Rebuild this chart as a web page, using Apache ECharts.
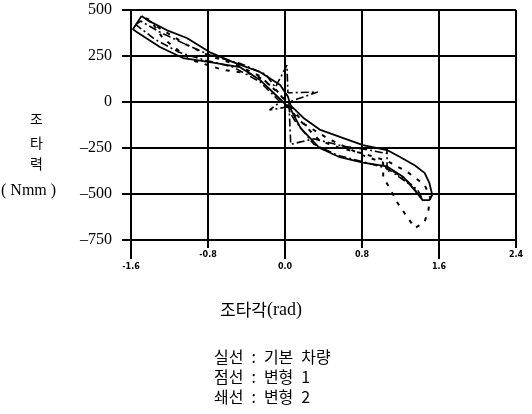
<!DOCTYPE html>
<html><head><meta charset="utf-8">
<script src="https://cdn.jsdelivr.net/npm/echarts@6/dist/echarts.min.js"></script>
<style>html,body{margin:0;padding:0;background:#fff}#c{width:532px;height:414px}</style>
</head><body><div id="c"></div>
<script>
// tick labels
const xTicksUpper = [-0.8, 0.8, 2.4];
const xTicksLower = [-1.6, 0.0, 1.6];
const yTicks = [500, 250, 0, -250, -500, -750];
const seriesNames = ['기본 차량', '변형 1', '변형 2'];

// 실선 : 기본 차량 (angle rad, torque Nmm)
const solidData = [
  [-1.49, 467], [-1.43, 445], [-1.23, 391], [-1.02, 348], [-0.78, 270], [-0.54, 217],
  [-0.26, 163], [-0.05, 92], [0.03, 30], [0.06, -20], [0.20, -90], [0.36, -150],
  [0.57, -190], [0.81, -234], [1.06, -261], [1.20, -300], [1.35, -345], [1.45, -385],
  [1.50, -440], [1.53, -505], [1.50, -533], [1.43, -533], [1.35, -480], [1.23, -408],
  [1.06, -350], [0.81, -330], [0.57, -300], [0.36, -250], [0.16, -140], [0.06, -40],
  [-0.05, 15], [-0.26, 120], [-0.47, 190], [-0.78, 217], [-1.06, 239], [-1.30, 299],
  [-1.54, 380], [-1.58, 395], [-1.49, 467]
];
// 점선 : 변형 1
const dashedData = [
  [-1.45, 455], [-1.40, 446], [-1.27, 348], [-1.14, 293], [-0.97, 228], [-0.64, 174],
  [-0.31, 150], [-0.10, 70], [0.02, 0], [0.20, -120], [0.45, -200], [0.81, -290],
  [1.02, -330], [1.02, -408], [1.11, -489], [1.17, -549], [1.27, -625], [1.35, -685],
  [1.45, -652], [1.49, -587], [1.51, -520], [1.45, -450], [1.27, -380], [1.06, -320],
  [0.81, -280], [0.57, -250], [0.36, -210], [0.10, -70], [-0.05, 40], [-0.26, 140],
  [-0.54, 210], [-0.78, 250], [-1.02, 310], [-1.30, 400], [-1.45, 455]
];
// 쇄선 : 변형 2
const dashDotData = [
  [-1.55, 420], [-1.50, 440], [-1.30, 380], [-1.06, 320], [-0.78, 255], [-0.47, 210],
  [-0.20, 150], [-0.10, 80], [0.02, 200], [0.03, 50], [0.34, 54], [0.16, 22],
  [0.04, 0], [0.06, -230], [0.30, -200], [0.60, -240], [0.81, -255], [1.06, -280],
  [1.06, -250], [1.06, -380], [1.10, -370], [1.25, -420], [1.38, -480], [1.42, -520],
  [1.30, -450], [1.06, -360], [0.81, -325], [0.55, -290], [0.30, -230], [0.10, -100],
  [0.02, -27], [-0.16, -43], [-0.05, 0], [-0.26, 110], [-0.54, 190], [-0.85, 230],
  [-1.10, 270], [-1.35, 340], [-1.55, 420]
];

const chart = echarts.init(document.getElementById('c'), null, {renderer: 'canvas'});
const black = '#000';
const korFont = '"Noto Sans CJK KR", sans-serif';
const serif = '"Liberation Serif", serif';
const sp = '\u2002';
const near = (v, list) => list.some(t => Math.abs(t - v) < 1e-6);
const fmtY = v => (near(v, yTicks) ? (v < 0 ? '\u2013' + Math.abs(v) : String(v)) : '');
const fmtXUpper = v => (near(v, xTicksUpper) ? v.toFixed(1) : '');
chart.setOption({
  animation: false,
  backgroundColor: '#fff',
  grid: {left: 131, right: 16, top: 10, bottom: 174},
  xAxis: [{
    type: 'value', min: -1.6, max: 2.4, interval: 0.8,
    axisLine: {show: true, onZero: false, lineStyle: {color: black, width: 2}},
    axisTick: {show: true, length: 8, lineStyle: {color: black, width: 2}},
    axisLabel: {show: true, margin: 11, fontSize: 8, fontWeight: 'bold',
      fontFamily: 'DejaVu Sans', color: black, formatter: fmtXUpper},
    splitLine: {show: true, lineStyle: {color: black, width: 2}}
  }, {
    type: 'value', min: -1.6, max: 2.4, interval: 0.8, position: 'bottom', offset: 0,
    axisLine: {show: false, onZero: false},
    axisTick: {show: true, length: 19, customValues: xTicksLower, lineStyle: {color: black, width: 2}},
    axisLabel: {customValues: xTicksLower, margin: 23, fontSize: 8, fontWeight: 'bold',
      fontFamily: 'DejaVu Sans', color: black, formatter: v => v.toFixed(1)},
    splitLine: {show: false}
  }],
  yAxis: {
    type: 'value', min: -750, max: 500, interval: 250,
    axisLine: {show: true, onZero: false, lineStyle: {color: black, width: 2}},
    axisTick: {show: true, length: 9, lineStyle: {color: black, width: 2}},
    axisLabel: {show: true, margin: 19, fontSize: 16, fontFamily: serif,
      color: black, formatter: fmtY},
    splitLine: {show: true, lineStyle: {color: black, width: 2}}
  },
  series: [
    {name: seriesNames[0], type: 'line', xAxisIndex: 0, data: solidData, showSymbol: false, symbol: 'none',
      lineStyle: {color: black, width: 1.8, type: 'solid'}},
    {name: seriesNames[1], type: 'line', xAxisIndex: 0, data: dashedData, showSymbol: false, symbol: 'none',
      lineStyle: {color: black, width: 2, type: [4, 7]}},
    {name: seriesNames[2], type: 'line', xAxisIndex: 0, data: dashDotData, showSymbol: false, symbol: 'none',
      lineStyle: {color: black, width: 1.6, type: [8, 3, 2, 3]}}
  ],
  graphic: [
    {type: 'text', left: 30, top: 112, style: {text: '조', font: '14px ' + korFont, fill: black}},
    {type: 'text', left: 30, top: 136, style: {text: '타', font: '14px ' + korFont, fill: black}},
    {type: 'text', left: 30, top: 157, style: {text: '력', font: '14px ' + korFont, fill: black}},
    {type: 'text', left: 1, top: 183, style: {text: '( Nmm )', font: '16px ' + serif, fill: black}},
    {type: 'text', left: 220, top: 301, style: {
      text: '{k|조타각}{r|(rad)}',
      rich: {k: {font: '17px ' + korFont, fill: black}, r: {font: '18px ' + serif, fill: black}}}},
    {type: 'text', left: 214, top: 349, style: {text: '실선' + sp + ':' + sp + '기본' + sp + '차량', font: '16px ' + korFont, fill: black}},
    {type: 'text', left: 214, top: 369, style: {text: '점선' + sp + ':' + sp + '변형' + sp + '1', font: '16px ' + korFont, fill: black}},
    {type: 'text', left: 214, top: 389, style: {text: '쇄선' + sp + ':' + sp + '변형' + sp + '2', font: '16px ' + korFont, fill: black}}
  ]
});
</script></body></html>
